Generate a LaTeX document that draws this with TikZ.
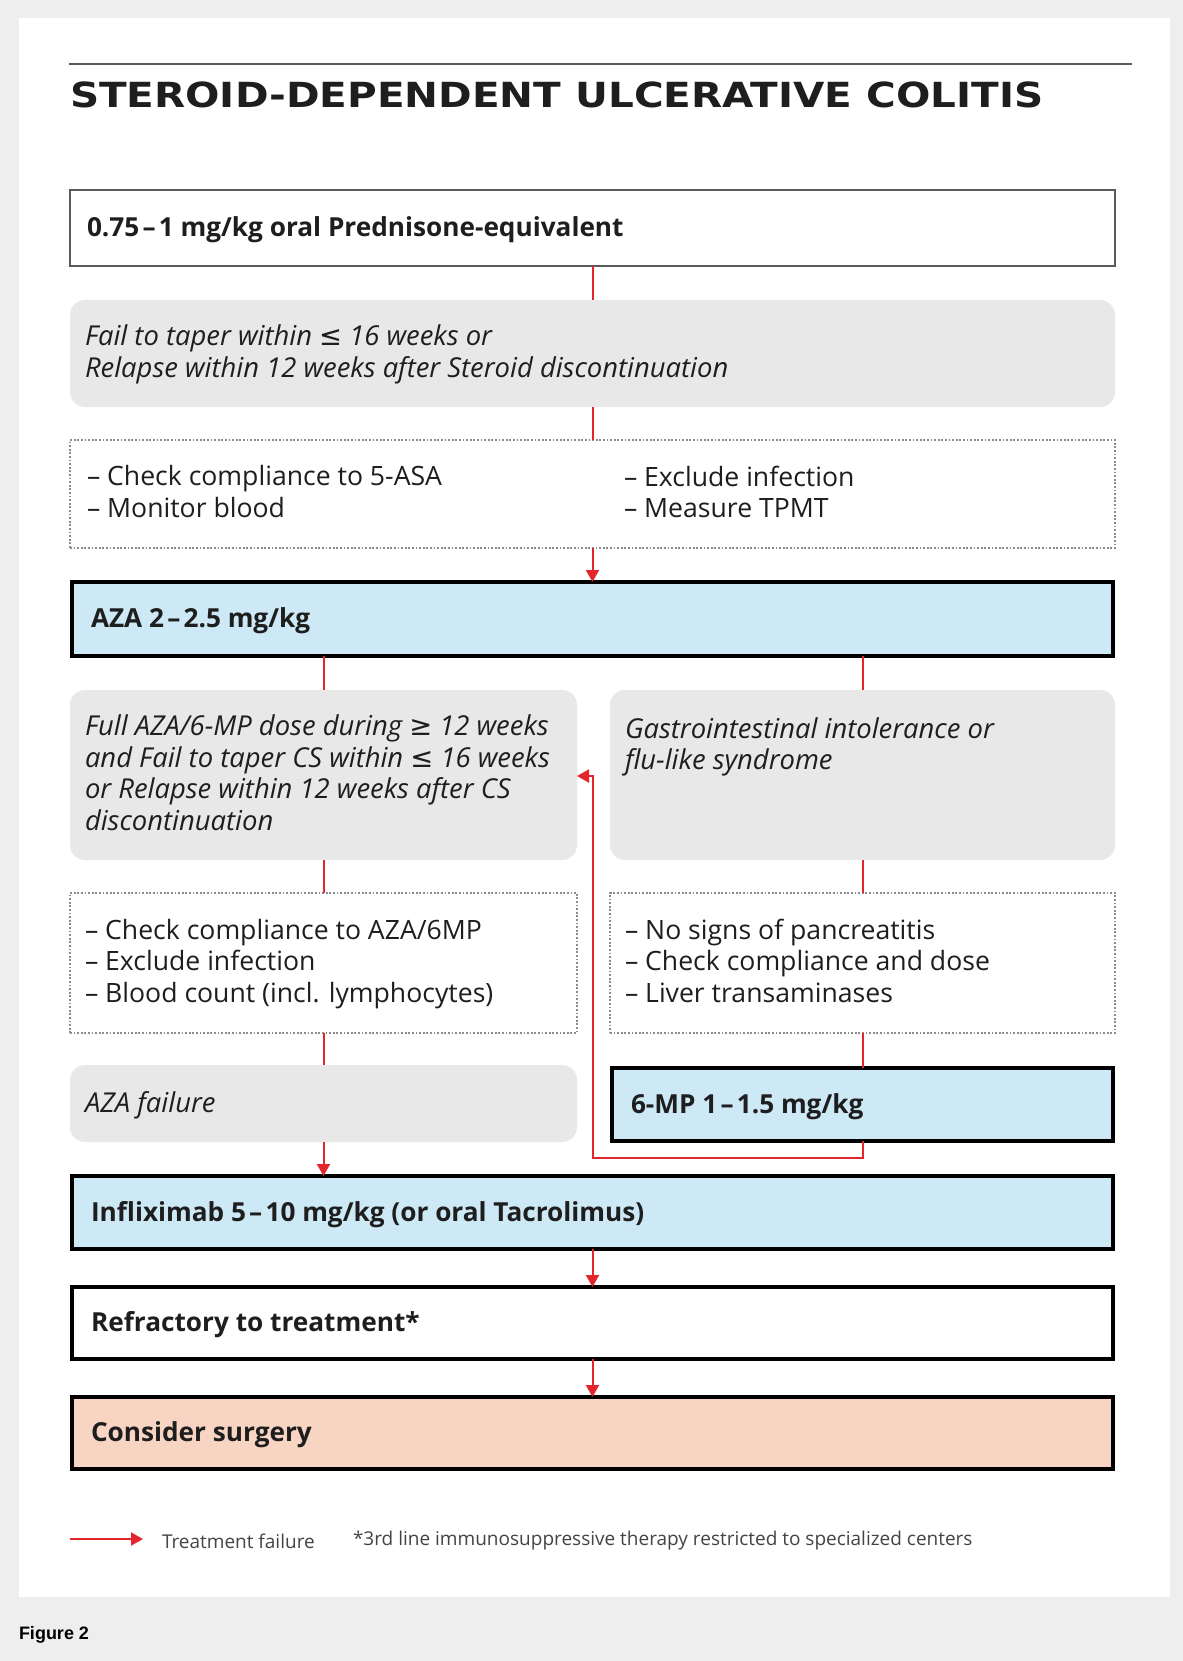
\documentclass[tikz,border=0pt]{standalone}
\usepackage{fontspec}
\setmainfont{Open Sans}
\newfontfamily\captionfont{Liberation Sans}
\newfontfamily\symfont{DejaVu Sans}
\newfontfamily\titlefont[FakeStretch=1.17]{DejaVu Sans}
\usetikzlibrary{arrows.meta}

\definecolor{pagegray}{HTML}{EEEEEE}
\definecolor{boxgray}{HTML}{E8E8E8}
\definecolor{rulegray}{HTML}{5A5A5A}
\definecolor{dotgray}{HTML}{8C8C8C}
\definecolor{drugblue}{HTML}{CDE9F6}
\definecolor{surgsalmon}{HTML}{F8D5C3}
\definecolor{flowred}{HTML}{E3262C}
\definecolor{ink}{HTML}{1E1E1E}
\definecolor{noteink}{HTML}{444444}

\newcommand{\dosedash}{\kern1.6pt–\kern1.6pt}
\newcommand{\atmost}{{\symfont ≤}}
\newcommand{\atleast}{{\symfont ≥}}

\begin{document}
\begin{tikzpicture}[x=0.5pt,y=-0.5pt,
  every node/.style={inner sep=0pt, outer sep=0pt},
  sz/.style 2 args={minimum width=#1*0.5pt, minimum height=#2*0.5pt},
  plainbox/.style={rectangle, draw=rulegray, line width=1pt, fill=white},
  condbox/.style={rectangle, fill=boxgray, rounded corners=7.5pt},
  checkbox/.style={rectangle, draw=dotgray, line width=0.8pt, dash pattern=on 0.9pt off 0.9pt, fill=white},
  drugbox/.style={rectangle, draw=black, line width=2.2pt, fill=drugblue},
  endbox/.style={rectangle, draw=black, line width=2.2pt, fill=white},
  surgbox/.style={rectangle, draw=black, line width=2.2pt, fill=surgsalmon},
  txtcommon/.style={text=ink, align=left, yshift=-1.2pt, execute at begin node=\strut, execute at end node=\strut},
  body/.style={txtcommon, font=\fontsize{13.3}{15.8}\selectfont},
  bodyit/.style={txtcommon, font=\fontsize{13.7}{15.8}\selectfont\itshape},
  boldtxt/.style={txtcommon, font=\fontsize{13.1}{15.8}\selectfont\bfseries},
  notetxt/.style={font=\fontsize{9.5}{11}\selectfont, text=noteink},
  link/.style={draw=flowred, line width=1pt},
  arrowlink/.style={link, -{Triangle[length=6pt,width=6.5pt]}},
]
% page and panel
\path[use as bounding box, fill=pagegray] (0,0) rectangle (1183,1661);
\fill[white] (19,18) rectangle (1170,1597);

% title with rule above
\coordinate (ruleL) at (69,64);
\coordinate (ruleR) at (1132,64);
\draw[rulegray, line width=1pt] (ruleL) -- (ruleR);
\node[anchor=base west, font=\titlefont\bfseries\fontsize{17.3}{20}\selectfont, text=ink] (title) at (70,107) {STEROID-DEPENDENT ULCERATIVE COLITIS};

% boxes
\node[plainbox, sz={1045}{76}] (dose) at (592.5,228) {};
\node[condbox, sz={1045}{107}] (fail) at (592.5,353.5) {};
\node[checkbox, sz={1045}{108}] (checks) at (592.5,494) {};
\node[drugbox, sz={1041}{74}] (aza) at (592.5,619) {};
\node[condbox, sz={507}{170}] (gl) at (323.5,775) {};
\node[condbox, sz={505}{170}] (gr) at (862.5,775) {};
\node[checkbox, sz={507}{140}] (dl) at (323.5,963) {};
\node[checkbox, sz={505}{140}] (dr) at (862.5,963) {};
\node[condbox, sz={507}{77}] (af) at (323.5,1103.5) {};
\node[drugbox, sz={501}{73}] (mp) at (862.5,1104.5) {};
\node[drugbox, sz={1041}{73}] (inf) at (592.5,1212.5) {};
\node[endbox, sz={1041}{72}] (ref) at (592.5,1323) {};
\node[surgbox, sz={1041}{72}] (sur) at (592.5,1433) {};

% box texts
\node[boldtxt, anchor=west] (dosetxt) at ([xshift=8.5pt]dose.west) {0.75\dosedash1 mg/kg oral Prednisone-equivalent};
\node[bodyit, anchor=west] (failtxt) at ([xshift=7.5pt]fail.west) {Fail to taper within \atmost{} 16 weeks or\\Relapse within 12 weeks after Steroid discontinuation};
\node[body, anchor=west] (checkstxtL) at ([xshift=8.5pt]checks.west) {– Check compliance to 5-ASA\\– Monitor blood};
\node[body, anchor=west] (checkstxtR) at ([xshift=277pt]checks.west) {– Exclude infection\\– Measure TPMT};
\node[boldtxt, anchor=west] (azatxt) at ([xshift=9.5pt]aza.west) {AZA 2\dosedash2.5 mg/kg};
\node[bodyit, anchor=west] (gltxt) at ([xshift=7.5pt]gl.west) {Full AZA/6-MP dose during \atleast{} 12 weeks\\and Fail to taper CS within \atmost{} 16 weeks\\or Relapse within 12 weeks after CS\\discontinuation};
\node[bodyit, anchor=north west] (grtxt) at ([xshift=7.5pt]gr.west |- gltxt.north) {Gastrointestinal intolerance or\\flu-like syndrome};
\node[body, anchor=west] (dltxt) at ([xshift=7.5pt]dl.west) {– Check compliance to AZA/6MP\\– Exclude infection\\– Blood count (incl. lymphocytes)};
\node[body, anchor=west] (drtxt) at ([xshift=7.5pt]dr.west) {– No signs of pancreatitis\\– Check compliance and dose\\– Liver transaminases};
\node[bodyit, anchor=west] (aftxt) at ([xshift=7.5pt]af.west) {AZA failure};
\node[boldtxt, anchor=west] (mptxt) at ([xshift=9.5pt]mp.west) {6-MP 1\dosedash1.5 mg/kg};
\node[boldtxt, anchor=west] (inftxt) at ([xshift=9.5pt]inf.west) {Infliximab 5\dosedash10 mg/kg (or oral Tacrolimus)};
\node[boldtxt, anchor=west] (reftxt) at ([xshift=9.5pt]ref.west) {Refractory to treatment*};
\node[boldtxt, anchor=west] (surtxt) at ([xshift=9.5pt]sur.west) {Consider surgery};

% connectors
\draw[link] (dose.south) -- (fail.north);
\draw[link] (fail.south) -- (checks.north);
\draw[arrowlink] (checks.south) -- (aza.north);
\draw[link] (aza.south -| gl.north) -- (gl.north);
\draw[link] (aza.south -| gr.north) -- (gr.north);
\draw[link] (gl.south) -- (dl.north);
\draw[link] (gr.south) -- (dr.north);
\draw[link] (dl.south) -- (af.north);
\draw[link] (dr.south) -- (mp.north);
\draw[arrowlink] (af.south) -- (af.south |- inf.north);
\draw[arrowlink] (inf.south) -- (ref.north);
\draw[arrowlink] (ref.south) -- (sur.north);

% treatment failure loop from 6-MP back to the AZA criteria
\coordinate (fbturn) at (593,1158);
\coordinate (fbtop) at (593,776);
\draw[arrowlink] (mp.south) |- (fbturn) -- (fbtop) -- (fbtop -| gl.east);

% legend
\coordinate (legA) at (70,1539);
\coordinate (legB) at (143,1539);
\draw[arrowlink] (legA) -- (legB);
\node[notetxt, anchor=west] (legfail) at (162,1541) {Treatment failure};
\node[notetxt, anchor=west] (legnote) at (353,1541) {*3rd line immunosuppressive therapy restricted to specialized centers};

% figure caption
\node[anchor=west, font=\captionfont\bfseries\fontsize{9}{11}\selectfont, text=black] (figlabel) at (19,1635) {Figure 2};
\end{tikzpicture}
\end{document}
